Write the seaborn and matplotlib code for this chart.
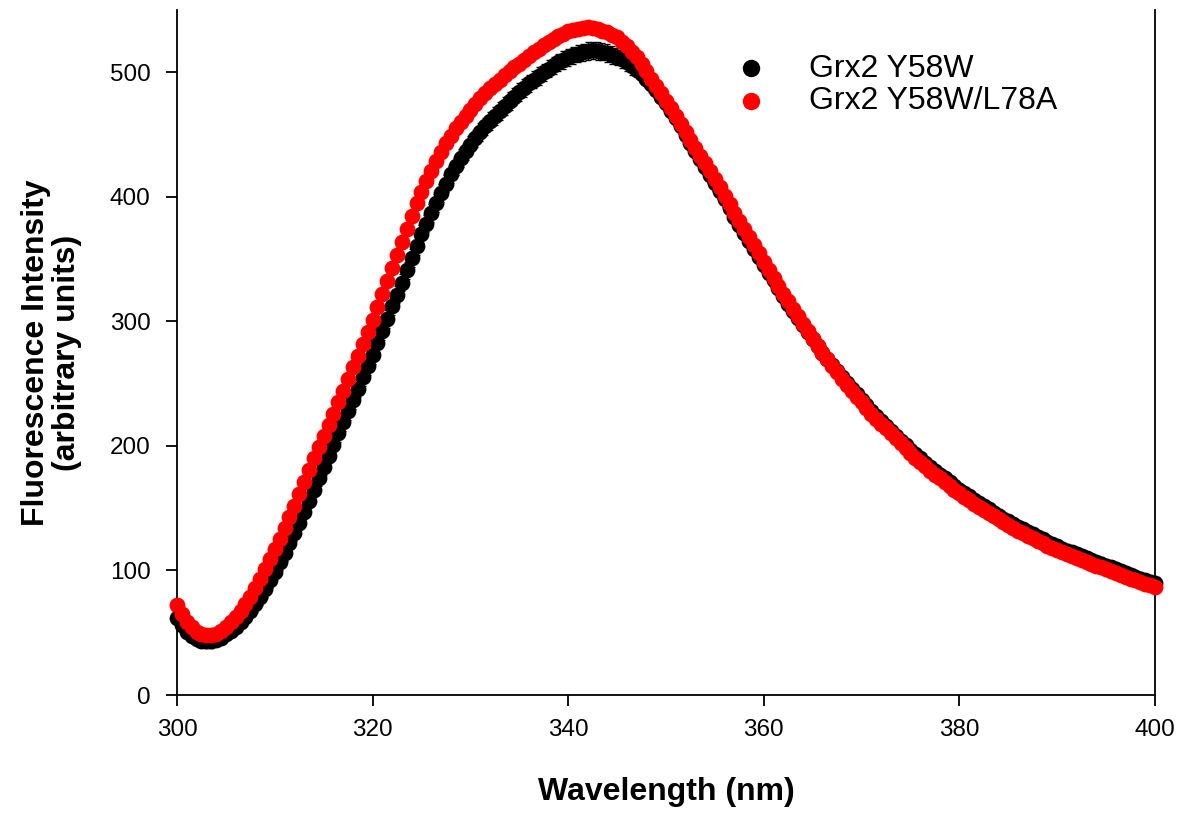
import numpy as np
import pandas as pd
import matplotlib
matplotlib.use("Agg")
import matplotlib.pyplot as plt
import seaborn as sns

# ---- data (0.5 nm steps) ----
wavelength = np.arange(300, 400.01, 0.5)

y58w = [62, 56, 51, 47.5, 45, 43.5, 43, 43, 44, 46,
        49, 51.5, 55, 58.5, 63, 67.5, 73, 78.5, 85, 92,
        99, 106.5, 114, 122, 130, 138.5, 147, 156, 165, 174,
        183, 192, 201, 210, 219, 228, 237, 246, 255, 264,
        273, 282.5, 292, 302, 312, 321.5, 331, 341, 351, 360.5,
        370, 378.5, 387, 395, 403, 410.5, 418, 424.5, 431, 436.5,
        442, 447, 452, 456.5, 461, 465, 469, 473, 477, 480.5,
        484, 487.5, 491, 494, 497, 500, 503, 505.5, 508, 510,
        512, 513.5, 515, 516, 517, 517.5, 517, 516.5, 515.5, 514,
        512.5, 510.5, 508, 505, 502, 498.5, 495, 490.5, 486, 480.5,
        475, 469, 463, 456.5, 450, 443.5, 437, 430.5, 424, 417.5,
        411, 404.5, 398, 391, 384, 377.5, 371, 364.5, 358, 351.5,
        345, 339, 333, 326.5, 320, 314, 308, 302.5, 297, 291.5,
        286, 280.5, 275, 270, 265, 260, 255, 250.5, 246, 241.5,
        237, 232.5, 228, 224, 220, 216, 212, 208, 204, 200.5,
        197, 193.5, 190, 186.5, 183, 180, 177, 174, 171, 168,
        165, 162, 159.5, 156.5, 154, 151.5, 149, 146.5, 144, 141.5,
        139.5, 137, 135, 133, 131, 129, 127, 125, 123, 121,
        119.5, 117.5, 116, 114.5, 113, 111.5, 110, 108.5, 107, 105.5,
        104, 102.5, 101, 99.5, 98, 96.5, 95, 93.5, 92.5, 91,
        90]

y58w_err = [5, 5, 5, 5, 5, 5, 5, 5, 5, 5,
            5, 5, 5, 5, 5, 5, 6, 6, 6, 6,
            6, 6, 6, 6, 6, 6, 6, 6, 6, 6,
            6, 6, 7, 7, 7, 7, 7, 7, 7, 7,
            7, 7, 7, 7, 7, 7, 7, 7, 7, 7,
            7, 7, 7, 7, 7, 7, 7, 7, 7, 7,
            7, 7, 7, 7, 7, 7, 7, 7, 7, 7,
            7, 7, 7, 7, 7, 7, 7, 7, 7, 7,
            7, 7, 7, 7, 7, 7, 7, 7, 7, 7,
            7, 7, 7, 7, 6, 6, 6, 6, 6, 6,
            6, 6, 6, 6, 6, 6, 6, 6, 6, 6,
            6, 6, 6, 6, 5, 5, 5, 5, 5, 5,
            5, 5, 5, 5, 5, 5, 5, 5, 5, 5,
            5, 5, 5, 5, 5, 5, 5, 5, 5, 5,
            5, 5, 5, 5, 5, 5, 5, 5, 5, 5,
            5, 5, 5, 5, 5, 5, 5, 5, 5, 5,
            5, 5, 5, 5, 5, 5, 5, 5, 5, 5,
            5, 5, 5, 5, 5, 5, 5, 5, 5, 5,
            5, 5, 5, 5, 5, 5, 5, 5, 5, 5,
            5, 5, 5, 5, 5, 5, 5, 5, 5, 5,
            5]

y58w_l78a = [72, 65, 59, 54.5, 51, 49, 48, 48, 49, 51.5,
             55, 58.5, 63, 67.5, 73, 79, 86, 93, 101, 109,
             117, 125.5, 134, 143, 152, 161.5, 171, 180.5, 190, 199,
             208, 217, 226, 235, 244, 253.5, 263, 272.5, 282, 291.5,
             301, 311.5, 322, 332.5, 343, 353.5, 364, 374.5, 385, 395,
             404, 413, 421, 429, 436, 443, 449, 455, 460, 465,
             470, 474.5, 479, 483, 487, 490.5, 494, 497.5, 501, 504,
             507, 510, 513, 516, 519, 521.5, 524, 526.5, 529, 531,
             533, 534, 535, 535.5, 536, 535.5, 535, 533.5, 532, 530,
             528, 524.5, 521, 516.5, 512, 506.5, 501, 495, 489, 483,
             477, 471, 465, 458.5, 452, 445.5, 439, 433, 427, 420.5,
             414, 407.5, 401, 394, 387, 380.5, 374, 367.5, 361, 354.5,
             348, 341.5, 335, 328.5, 322, 316, 310, 304, 298, 292,
             286, 280.5, 275, 269.5, 264, 259, 254, 249, 244, 239.5,
             235, 230.5, 226, 222, 218, 214, 210, 206, 202, 198,
             194, 190.5, 187, 183.5, 180, 177, 174, 171, 168, 165,
             162, 159, 156.5, 153.5, 151, 148.5, 146, 143.5, 141, 139,
             136.5, 134, 132, 130, 128, 126, 124, 122, 120, 118,
             116.5, 114.5, 113, 111.5, 110, 108.5, 107, 105.5, 104, 102.5,
             101, 99.5, 98, 96.5, 95, 93.5, 92, 91, 89.5, 88,
             87]

labels = ["Grx2 Y58W", "Grx2 Y58W/L78A"]
x_ticks = [300, 320, 340, 360, 380, 400]
y_ticks = [0, 100, 200, 300, 400, 500]

# ---- style ----
sns.set_style("white")
plt.rcParams["font.family"] = ["Liberation Sans", "DejaVu Sans"]
plt.rcParams["text.color"] = "black"
plt.rcParams["axes.labelcolor"] = "black"
plt.rcParams["xtick.color"] = "black"
plt.rcParams["ytick.color"] = "black"

fig = plt.figure(figsize=(11.8, 8.13), dpi=100)
ax = fig.add_axes([0.150, 0.1451, 0.8288, 0.8426])

df = pd.DataFrame({"wl": wavelength, "a": y58w, "b": y58w_l78a})

msize = 130
ax.errorbar(df["wl"], df["a"], yerr=y58w_err, fmt="none", ecolor="black",
            elinewidth=1.0, capsize=2.0, capthick=1.0, zorder=2, clip_on=False)
sns.scatterplot(data=df, x="wl", y="a", color="black", s=msize, linewidth=0,
                label=labels[0], ax=ax, zorder=3, clip_on=False)
sns.scatterplot(data=df, x="wl", y="b", color="#ff0000", s=msize, linewidth=0,
                label=labels[1], ax=ax, zorder=4, clip_on=False)

ax.set_xlim(300, 400)
ax.set_ylim(0, 550)
ax.set_xticks(x_ticks)
ax.set_yticks(y_ticks)

for side in ["left", "bottom", "right"]:
    ax.spines[side].set_visible(True)
    ax.spines[side].set_color("black")
    ax.spines[side].set_linewidth(1.3)
ax.spines["top"].set_visible(False)

ax.tick_params(axis="x", direction="out", length=8, width=1.3, pad=9,
               labelsize=17.5, colors="black", bottom=True, top=False)
ax.tick_params(axis="y", direction="out", length=8, width=1.3, pad=11,
               labelsize=17.5, colors="black", left=True, right=False)

ax.set_xlabel("Wavelength (nm)", fontsize=23, fontweight="bold", labelpad=26,
              color="black")
ax.set_ylabel("Fluorescence Intensity\n(arbitrary units)", fontsize=23,
              fontweight="bold", labelpad=20, linespacing=1.05, color="black")

leg = ax.legend(loc="upper left", bbox_to_anchor=(0.571, 0.936), frameon=False,
                fontsize=23, handlelength=1.0, handletextpad=1.3,
                labelspacing=0.08, borderaxespad=0, borderpad=0,
                markerscale=1.1)
for t in leg.get_texts():
    t.set_color("black")

fig.savefig("out.png", dpi=100)
